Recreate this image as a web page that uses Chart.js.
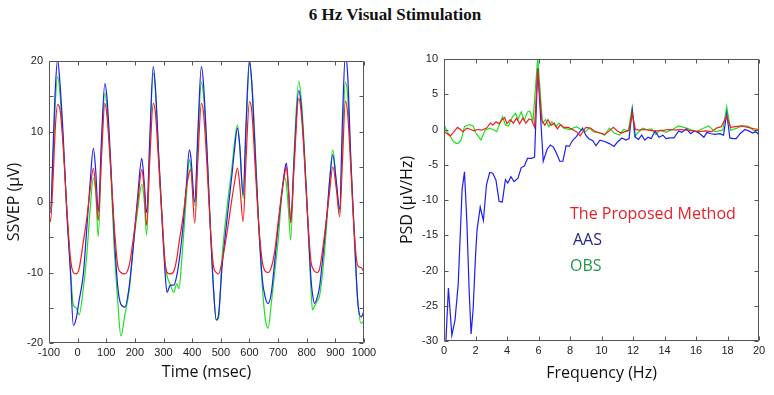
<!DOCTYPE html>
<html><head><meta charset="utf-8">
<script src="https://cdn.jsdelivr.net/npm/chart.js@4.4.1/dist/chart.umd.min.js"></script>
<style>
html,body{margin:0;padding:0;background:#fff;}
#wrap{position:relative;width:774px;height:395px;overflow:hidden;background:#fff;}
#title{position:absolute;left:8px;top:5px;width:774px;text-align:center;font:bold 17px "Liberation Serif",serif;line-height:20px;color:#111;}
#c1{position:absolute;left:0;top:40px;}
#c2{position:absolute;left:390px;top:40px;}
</style></head><body>
<div id="wrap">
<div id="title">6 Hz Visual Stimulation</div>
<canvas id="c1" width="390" height="355"></canvas>
<canvas id="c2" width="384" height="355"></canvas>
</div>
<script>
// ---------- Left panel: SSVEP waveform (time in ms, amplitude in µV) ----------
const timeMs = [
  -100,-95,-85,-78,-70,-62,-50,-38,-25,-15,-5,5,20,32,43,55,63,72,83,95,
  103,115,127,140,151,165,180,195,210,224,232,241,252,264,
  272,283,295,305,312,324,336,346,354,363,370,380,390,395,409,420,432,
  440,452,464,474,484,492,504,521,539,548,558,566,578,588,600,
  608,620,632,645,655,665,676,688,700,712,723,729,736,744,756,772,
  780,790,803,815,820,827,837,845,858,870,880,891,903,915,925,935,
  943,955,967,978,990,1000
];
const aasUv = [
  -1.2,-1.5,8.5,16.0,20.2,17.0,9.0,-1.4,-10.0,-17.5,-16.5,-14.0,-10.2,-3.7,2.4,7.6,4.5,-1.4,8.6,16.8,
  14.5,6.0,-4.0,-12.0,-14.5,-14.9,-12.0,-6.0,1.0,6.2,3.0,-1.5,9.0,19.2,
  16.0,6.7,-2.7,-9.8,-12.8,-11.8,-11.8,-10.5,-8.5,-5.5,-2.5,2.5,7.4,6.5,0.0,10.0,19.2,
  16.5,7.0,-4.0,-12.0,-16.7,-16.0,-9.4,-2.7,3.9,7.5,10.5,8.0,1.0,11.0,20.2,
  17.0,7.0,-3.0,-11.0,-13.5,-14.4,-13.0,-8.5,-3.5,1.0,4.5,5.5,2.0,-2.6,6.0,15.8,
  14.0,8.0,-2.0,-11.0,-13.0,-14.4,-13.5,-12.0,-7.0,-2.0,3.0,6.7,3.0,-1.0,12.0,21.0,
  18.0,5.0,-5.0,-14.0,-16.3,-15.5
];
const obsUv = [
  -0.5,-1.0,7.0,14.0,17.8,15.5,8.0,-0.8,-9.6,-14.6,-15.0,-16.0,-12.2,-7.5,-1.4,3.4,1.5,-4.9,7.0,15.5,
  13.0,5.0,-6.0,-14.0,-19.0,-16.0,-12.5,-6.0,-1.0,2.5,0.5,-4.7,8.0,18.3,
  15.5,6.5,-2.0,-8.5,-10.4,-11.8,-12.8,-11.6,-12.3,-8.5,-4.7,1.0,6.0,5.0,-0.5,9.0,17.0,
  15.0,7.0,-4.0,-12.0,-16.8,-16.5,-8.0,-1.0,5.0,8.5,10.9,8.0,0.5,10.0,19.5,
  17.0,8.0,-3.0,-12.0,-16.5,-17.9,-14.5,-10.0,-5.6,0.5,3.4,2.5,-1.0,-5.4,7.0,17.1,
  15.0,9.0,-2.0,-12.5,-15.3,-14.8,-14.0,-13.3,-9.0,-3.0,3.0,7.4,3.0,-1.5,9.0,17.0,
  15.0,5.0,-6.0,-14.0,-17.2,-16.8
];
const proposedUv = [
  -1.5,-2.8,4.0,10.5,13.8,13.2,7.6,-0.8,-8.0,-10.0,-10.2,-9.5,-5.6,-2.3,1.5,4.8,2.0,-2.6,6.0,14.0,
  12.0,5.0,-3.0,-9.0,-10.0,-10.2,-9.0,-5.0,0.0,4.6,2.0,-3.3,6.0,14.0,
  12.5,5.5,-2.5,-8.5,-10.0,-10.2,-9.8,-8.1,-5.8,-3.5,-1.5,2.0,4.2,4.6,-3.0,6.0,14.0,
  12.5,5.0,-4.0,-9.0,-10.0,-10.2,-8.5,-4.5,0.5,2.8,4.8,2.5,-2.8,6.0,14.2,
  13.0,5.0,-3.0,-8.5,-9.8,-10.0,-9.3,-7.0,-3.0,1.0,4.0,5.0,2.0,-3.0,5.0,14.7,
  13.0,7.5,-2.0,-8.5,-9.3,-9.8,-10.0,-9.5,-6.0,-2.0,1.5,5.0,2.0,-2.1,6.0,14.3,
  12.5,4.0,-5.0,-9.0,-9.3,-9.9
];

// ---------- Right panel: PSD (frequency in Hz, µV/Hz) ----------
const freqAAS = [0.1,0.28,0.5,0.7,0.9,1.05,1.15,1.3,1.45,1.6,1.72,1.85,2.0,2.1,2.3,2.5,2.7,2.9,3.1,3.3,3.5,3.7,3.9,4.05,4.25,4.45,4.7,4.9,5.1,5.3,5.55,5.75,5.95,6.3,6.55,6.75,6.95,7.15,7.35,7.55,7.75,7.95,8.15,8.4,8.6,8.8,9.0,9.2,9.45,9.65,9.9,10.2,10.5,10.8,11.0,11.3,11.55,11.75,11.95,12.15,12.35,12.55,12.75,12.95,13.15,13.4,13.65,13.9,14.1,14.35,14.6,14.9,15.1,15.4,15.65,15.9,16.2,16.5,16.7,16.95,17.2,17.5,17.75,17.95,18.15,18.35,18.55,18.8,19.1,19.35,19.6,19.8,20.0];
const psdAAS = [-31,-22.5,-29.2,-27,-22,-14,-8.5,-6,-13,-23,-29,-25.5,-18,-14.2,-11,-12.9,-7.8,-6.1,-6.2,-7.2,-10.2,-10.3,-7.1,-7.6,-6.7,-7.4,-6.9,-5.4,-5.2,-4.1,-4.1,-3.9,8.7,-4.5,-2.8,-2.2,-2.5,-3.4,-4.5,-4.5,-2.3,-2.4,-1.6,-1.0,-0.4,0.2,-0.8,-1.3,-1.6,-2.3,-1.5,-1.7,-2.0,-2.4,-1.8,-1.2,-1.5,-1.3,2.8,-1.1,-1.4,-0.8,-1.5,-1.1,-1.3,-0.2,-1.1,-0.8,-1.3,-1.2,-1.2,-0.2,-0.4,0.1,-0.6,-0.2,-0.5,-1.1,-0.4,-0.6,-0.7,-0.6,-0.8,2.3,-1.2,-1.3,-1.3,-0.6,0.0,-0.2,-0.5,-0.3,-0.8];
const freqProposed = [0.0,0.2,0.4,0.6,0.85,1.05,1.2,1.45,1.7,1.9,2.1,2.4,2.7,2.95,3.1,3.3,3.5,3.65,3.85,4.0,4.2,4.4,4.6,4.8,5.0,5.2,5.4,5.55,5.75,5.95,6.2,6.4,6.6,6.8,7.0,7.2,7.4,7.6,7.9,8.15,8.4,8.65,9.0,9.3,9.6,9.9,10.2,10.5,10.75,11.0,11.25,11.5,11.75,11.95,12.15,12.4,12.7,13.0,13.3,13.6,14.0,14.3,14.7,15.0,15.4,15.8,16.2,16.6,17.0,17.3,17.6,17.95,18.2,18.5,18.9,19.3,19.7,20.0];
const psdProposed = [-0.3,-0.6,-0.9,-0.4,0.3,0.0,-0.3,0.2,0.0,-0.2,0.0,-0.1,0.2,0.9,0.6,1.1,0.8,1.3,1.7,0.8,1.4,0.9,1.6,0.8,1.6,0.9,1.5,1.4,0.3,8.5,1.4,0.6,1.4,0.6,0.9,0.1,0.7,0.3,0.3,0.0,-0.3,-0.9,0.3,0.2,-0.3,-0.5,-0.7,-0.2,0.3,-0.2,-0.5,-0.3,-0.1,2.3,0.0,-0.1,0.0,-0.1,-0.2,-0.2,-0.1,0.0,-0.1,0.0,-0.1,-0.2,-0.3,-0.2,-0.3,0.2,0.4,1.9,0.3,0.4,0.5,0.3,0.1,0.0];
const freqOBS = [0.0,0.2,0.4,0.6,0.8,0.95,1.1,1.3,1.6,1.85,2.0,2.2,2.35,2.6,2.9,3.1,3.35,3.55,3.72,3.9,4.1,4.35,4.55,4.7,4.9,5.1,5.3,5.45,5.65,5.95,6.25,6.45,6.65,6.85,7.1,7.3,7.6,8.0,8.4,8.7,9.0,9.2,9.5,9.9,10.2,10.5,10.8,11.15,11.4,11.7,11.95,12.1,12.3,12.6,12.9,13.2,13.45,13.7,14.1,14.5,14.9,15.4,16.0,16.4,16.8,17.2,17.7,17.95,18.2,18.6,18.9,19.3,19.8,20.0];
const psdOBS = [0.7,-0.3,-1.0,-1.7,-2.0,-1.9,-1.4,0.4,0.7,0.5,-0.4,-1.0,-1.5,-0.1,0.2,0.0,-0.3,0.9,1.8,0.6,0.5,1.8,2.3,1.4,2.5,1.3,2.5,2.6,1.2,10.2,0.9,1.4,0.4,1.1,0.4,0.9,0.2,0.0,0.4,0.0,-0.3,0.2,-0.3,-0.5,-0.8,0.2,-0.5,-0.8,0.0,-0.2,3.1,-1.0,-0.5,0.2,0.0,0.1,-0.7,-0.1,-0.4,0.0,0.5,0.2,-0.3,0.1,0.5,-0.3,-0.1,3.2,-0.1,0.2,0.5,0.5,-0.4,-0.5];

const seriesNames = ['The Proposed Method', 'AAS', 'OBS'];
const lineColors = ['#f21d1d', '#1e1ef5', '#1fe01f'];
const legendTextColors = ['#e8202a', '#24248c', '#1d9a4a'];

// axis ranges / tick steps
const timeAxis = {min: -100, max: 1000, step: 100};
const ssvepAxis = {min: -20, max: 20, step: 5, labelEvery: 10};
const freqAxis = {min: 0, max: 20, step: 2};
const psdAxis = {min: -30, max: 10, step: 5};

const pts = (xs, ys) => xs.map((x, i) => ({x, y: ys[i]}));

const frameTicks = {
  id: 'frameTicks',
  afterDatasetsDraw(chart) {
    const {ctx, chartArea: a} = chart;
    const xs = chart.scales.x, ys = chart.scales.y;
    const L = 4;
    const l = Math.round(a.left) + 0.5, r = Math.round(a.right) - 0.5;
    const t = Math.round(a.top) + 0.5, b = Math.round(a.bottom) - 0.5;
    ctx.save();
    ctx.strokeStyle = '#555';
    ctx.lineWidth = 1;
    ctx.beginPath();
    ctx.rect(l, t, r - l, b - t);
    xs.ticks.forEach((tk, i) => {
      const p = Math.round(xs.getPixelForTick(i)) + 0.5;
      ctx.moveTo(p, b); ctx.lineTo(p, b - L);
      ctx.moveTo(p, t); ctx.lineTo(p, t + L);
    });
    ys.ticks.forEach((tk, i) => {
      const p = Math.round(ys.getPixelForTick(i)) + 0.5;
      ctx.moveTo(l, p); ctx.lineTo(l + L, p);
      ctx.moveTo(r, p); ctx.lineTo(r - L, p);
    });
    ctx.stroke();
    ctx.restore();
  }
};

const textLegend = {
  id: 'textLegend',
  afterDatasetsDraw(chart, args, opts) {
    const {ctx} = chart;
    const x = chart.scales.x.getPixelForValue(opts.atX);
    const y0 = chart.scales.y.getPixelForValue(opts.atY);
    ctx.save();
    ctx.font = opts.font;
    ctx.textAlign = 'left';
    ctx.textBaseline = 'middle';
    chart.data.datasets.forEach((ds, i) => {
      ctx.fillStyle = opts.colors[i];
      ctx.fillText(ds.label, x + (opts.indents[i] || 0), y0 + i * opts.gap);
    });
    ctx.restore();
  }
};

const tickFont = {family: 'Liberation Sans, Arial, sans-serif', size: 11};
const titleFont = {family: 'Open Sans, sans-serif', size: 16};
const tickColor = '#222';

function baseOptions(o) {
  return {
    responsive: false,
    animation: false,
    devicePixelRatio: 1,
    layout: {padding: o.pad},
    elements: {point: {radius: 0, hoverRadius: 0}},
    plugins: {legend: {display: false}, tooltip: {enabled: false}, textLegend: o.legend || false},
    scales: {
      x: {
        type: 'linear', min: o.x.min, max: o.x.max,
        ticks: {stepSize: o.x.step, font: tickFont, color: tickColor, padding: 3, maxRotation: 0, autoSkip: false, includeBounds: true,
                callback: v => String(v)},
        grid: {display: false, drawTicks: false}, border: {display: false},
        title: {display: true, text: o.xTitle, font: titleFont, color: '#111', padding: {top: 2, bottom: o.xTitlePad}},
        afterFit(s) { s.height = o.xH; }
      },
      y: {
        type: 'linear', min: o.y.min, max: o.y.max,
        ticks: {stepSize: o.y.step, font: tickFont, color: tickColor, padding: 6, autoSkip: false,
                callback: o.yCb || (v => String(v))},
        grid: {display: false, drawTicks: false}, border: {display: false},
        title: {display: true, text: o.yTitle, font: titleFont, color: '#111', padding: {top: o.yTitlePad, bottom: 0}},
        afterFit(s) { s.width = o.yW; }
      }
    }
  };
}

new Chart(document.getElementById('c1'), {
  type: 'line',
  data: {
    datasets: [
      {label: seriesNames[0], data: pts(timeMs, proposedUv), borderColor: lineColors[0], borderWidth: 1.2, cubicInterpolationMode: 'monotone', fill: false},
      {label: seriesNames[1], data: pts(timeMs, aasUv), borderColor: lineColors[1], borderWidth: 1.2, cubicInterpolationMode: 'monotone', fill: false},
      {label: seriesNames[2], data: pts(timeMs, obsUv), borderColor: lineColors[2], borderWidth: 1.2, cubicInterpolationMode: 'monotone', fill: false}
    ]
  },
  options: baseOptions({
    pad: {top: 21, right: 26, left: 0, bottom: 0},
    x: timeAxis, y: ssvepAxis,
    xTitle: 'Time (msec)', yTitle: 'SSVEP (\u03BCV)',
    xTitlePad: 13, yTitlePad: 5, xH: 52, yW: 49,
    yCb: v => (v % ssvepAxis.labelEvery === 0 ? String(v) : '')
  }),
  plugins: [frameTicks]
});

new Chart(document.getElementById('c2'), {
  type: 'line',
  data: {
    datasets: [
      {label: seriesNames[0], data: pts(freqProposed, psdProposed), borderColor: lineColors[0], borderWidth: 1.2, tension: 0, fill: false},
      {label: seriesNames[1], data: pts(freqAAS, psdAAS), borderColor: lineColors[1], borderWidth: 1.2, tension: 0, fill: false},
      {label: seriesNames[2], data: pts(freqOBS, psdOBS), borderColor: lineColors[2], borderWidth: 1.2, tension: 0, fill: false}
    ]
  },
  options: baseOptions({
    pad: {top: 19, right: 15, left: 0, bottom: 0},
    x: freqAxis, y: psdAxis,
    xTitle: 'Frequency (Hz)', yTitle: 'PSD (\u03BCV/Hz)',
    xTitlePad: 12, yTitlePad: 8, xH: 54, yW: 54,
    legend: {atX: 8, atY: -12.0, gap: 26, indents: [0, 3, 0], colors: legendTextColors, font: '16px "Open Sans", sans-serif'}
  }),
  plugins: [frameTicks, textLegend]
});
</script>
</body></html>
